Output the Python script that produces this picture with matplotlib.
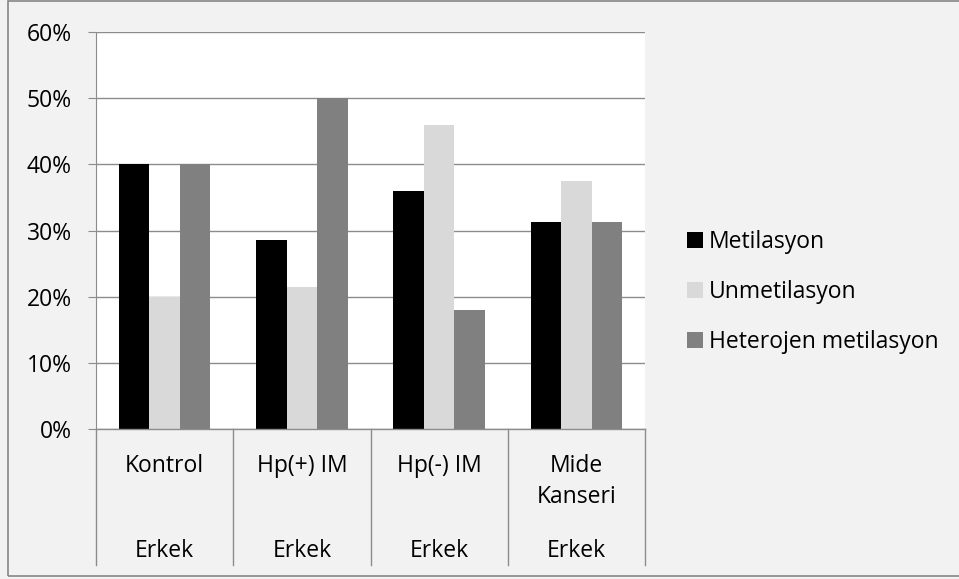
import matplotlib
matplotlib.use("Agg")
import matplotlib.pyplot as plt
import matplotlib.transforms as mtransforms
from matplotlib.patches import Patch, Rectangle
from matplotlib.ticker import PercentFormatter
import numpy as np

plt.rcParams['font.family'] = ['Open Sans', 'DejaVu Sans']

groups = ["Kontrol", "Hp(+) IM", "Hp(-) IM", "Mide\nKanseri"]
subgroup = "Erkek"
series = ["Metilasyon", "Unmetilasyon", "Heterojen metilasyon"]
metilasyon = [40.0, 28.57, 36.0, 31.25]
unmetilasyon = [20.0, 21.43, 46.0, 37.5]
heterojen = [40.0, 50.0, 18.0, 31.25]
colors = ["#000000", "#D9D9D9", "#808080"]

FS = 16.5
W, H = 959, 579
fig = plt.figure(figsize=(W / 100, H / 100), dpi=100, facecolor="#F2F2F2")
ax = fig.add_axes([96 / W, (H - 429) / H, (645 - 96) / W, (429 - 32) / H])
ax.set_facecolor("white")
ax_h = 429 - 32  # axes height in pixels, for placing labels below the axis

x = np.arange(len(groups))
w = 1 / 4.5  # gap width 150%
for i, (vals, c) in enumerate(zip([metilasyon, unmetilasyon, heterojen], colors)):
    ax.bar(x + (i - 1) * w, np.array(vals) / 100, width=w, color=c, zorder=3)

ax.set_xlim(-0.5, len(groups) - 0.5)
ax.set_ylim(0, 0.6)
ax.set_yticks(np.arange(0, 0.61, 0.1))
ax.yaxis.set_major_formatter(PercentFormatter(1.0, decimals=0))
ax.grid(axis="y", color="#8C8C8C", linewidth=1, zorder=0)
for s in ["top", "right", "bottom"]:
    ax.spines[s].set_visible(False)
ax.spines["left"].set_color("#8C8C8C")
ax.tick_params(axis="y", length=5.8, color="#8C8C8C", pad=11.5, labelsize=FS, labelcolor="#000000")
ax.set_xticks([])

# category axis with two label rows
trans = mtransforms.blended_transform_factory(ax.transData, ax.transAxes)
ax.plot([-0.5, len(groups) - 0.5], [0, 0], color="#8C8C8C", lw=1, transform=trans, clip_on=False, zorder=4)
for b in np.arange(-0.5, len(groups), 1.0):
    ax.plot([b, b], [0, -136 / ax_h], color="#8C8C8C", lw=1, transform=trans, clip_on=False)
for xi, g in zip(x, groups):
    for j, line in enumerate(g.split("\n")):
        ax.text(xi, -(43 + 31 * j) / ax_h, line, transform=trans, ha="center", va="baseline", fontsize=FS)
    ax.text(xi, -128 / ax_h, subgroup, transform=trans, ha="center", va="baseline", fontsize=FS)

handles = [Patch(facecolor=c, edgecolor="none") for c in colors]
fig.legend(handles, series, loc="center left", bbox_to_anchor=(687 / W, 1 - 292 / H),
           frameon=False, fontsize=FS, handlelength=0.7, handleheight=0.7,
           handletextpad=0.26, labelspacing=1.13, borderpad=0, borderaxespad=0)

fig.patches.append(Rectangle((7.5 / W, 3 / H), 2, (H - 3.5) / H, transform=fig.transFigure,
                             fill=False, edgecolor="#868686", linewidth=1.2))

fig.savefig("out.png", dpi=100, facecolor=fig.get_facecolor())
